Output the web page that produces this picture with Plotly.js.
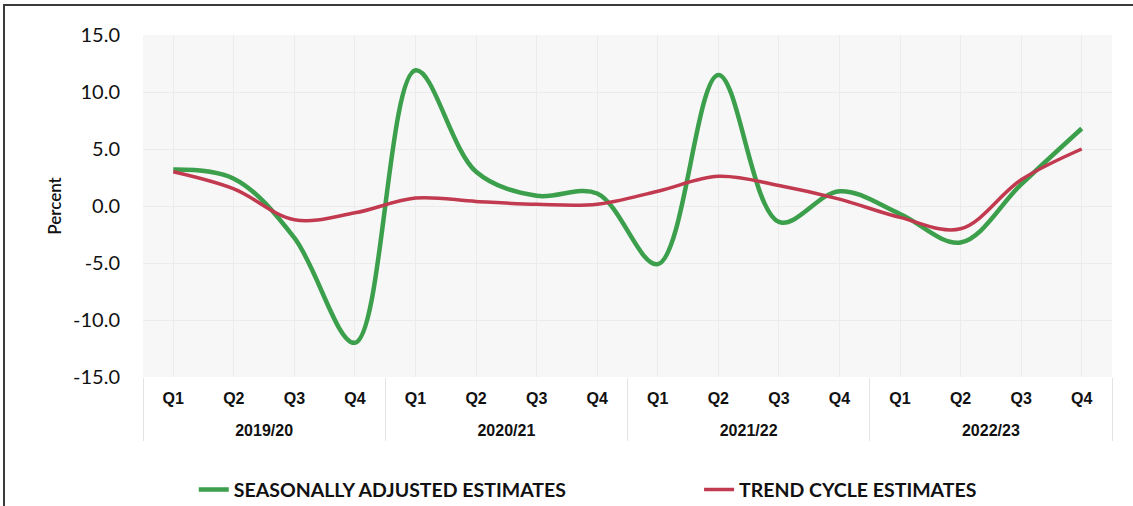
<!DOCTYPE html>
<html>
<head>
<meta charset="utf-8">
<script src="https://cdn.plot.ly/plotly-3.0.1.min.js"></script>
<style>
  html, body { margin: 0; padding: 0; background: #ffffff; }
  #wrap { position: relative; width: 1133px; height: 506px; overflow: hidden; }
  #chart { position: absolute; left: 0; top: 0; width: 1133px; height: 506px; }
  #frame { position: absolute; left: 3px; top: 4px; width: 1140px; height: 510px;
           border-left: 2px solid #3a3a3a; border-top: 2px solid #3a3a3a; pointer-events: none; }
</style>
</head>
<body>
<div id="wrap">
  <div id="chart"></div>
  <div id="frame"></div>
</div>
<script>
// ---- data ----
const fiscalYears = ['2019/20', '2020/21', '2021/22', '2022/23'];
const quarters = ['Q1', 'Q2', 'Q3', 'Q4'];
const seasonallyAdjusted = [3.2, 2.4, -2.8, -12.0, 11.9, 3.0, 0.9, 1.1, -5.1, 11.5, -1.4, 1.3, -0.7, -3.2, 1.9, 6.8];
const trendCycle = [3.0, 1.5, -1.2, -0.6, 0.7, 0.4, 0.15, 0.15, 1.3, 2.6, 1.8, 0.6, -1.0, -2.0, 2.3, 5.0];
const yTickValues = [15, 10, 5, 0, -5, -10, -15];
const yTickLabels = ['15.0', '10.0', '5.0', '0.0', '-5.0', '-10.0', '-15.0'];
const seriesNames = ['SEASONALLY ADJUSTED ESTIMATES', 'TREND CYCLE ESTIMATES'];
const yAxisTitle = 'Percent';

// unique category keys (year + quarter); quarter shown as tick text, year on a second axis
const xKeys = fiscalYears.flatMap(fy => quarters.map(q => fy + ' ' + q));
const xQuarterText = fiscalYears.flatMap(() => quarters);
const yearCenters = fiscalYears.map((_, i) => i * quarters.length + (quarters.length - 1) / 2);

const legendFont = { family: 'Lato, "Open Sans", sans-serif', size: 19.5, color: '#111111', weight: 'bold' };
const tickFontX = { family: 'Arial, "Liberation Sans", sans-serif', size: 16, color: '#111111', weight: 'bold' };

const traces = [
  {
    x: xKeys, y: seasonallyAdjusted, name: seriesNames[0],
    type: 'scatter', mode: 'lines', legend: 'legend',
    line: { color: '#3b9f4b', width: 4.5, shape: 'spline', smoothing: 1 }
  },
  {
    x: xKeys, y: trendCycle, name: seriesNames[1],
    type: 'scatter', mode: 'lines', legend: 'legend2',
    line: { color: '#c23a4f', width: 3.5, shape: 'spline', smoothing: 1 }
  },
  // empty helper trace so the fiscal-year axis (xaxis2) is drawn; it has no marks
  { x: [], y: [], xaxis: 'x2', yaxis: 'y', type: 'scatter', mode: 'lines', showlegend: false, hoverinfo: 'skip' }
];

const layout = {
  width: 1133, height: 506,
  margin: { l: 143, r: 21, t: 35, b: 129 },
  paper_bgcolor: '#ffffff',
  plot_bgcolor: '#f7f7f7',
  showlegend: true,
  legend: {
    orientation: 'h', xref: 'container', yref: 'container',
    x: 0.171, xanchor: 'left', y: 0.032, yanchor: 'middle',
    font: legendFont, bgcolor: 'rgba(0,0,0,0)', itemwidth: 30
  },
  legend2: {
    orientation: 'h', xref: 'container', yref: 'container',
    x: 0.617, xanchor: 'left', y: 0.032, yanchor: 'middle',
    font: legendFont, bgcolor: 'rgba(0,0,0,0)', itemwidth: 30
  },
  xaxis: {
    type: 'category',
    range: [-0.5, 15.5],
    tickvals: xKeys, ticktext: xQuarterText,
    showgrid: true, gridcolor: '#ececec', gridwidth: 1,
    showline: false, zeroline: false, ticks: '',
    ticklabelstandoff: 10, automargin: false,
    tickfont: tickFontX
  },
  xaxis2: {
    overlaying: 'x', anchor: 'y', side: 'bottom',
    type: 'linear', range: [-0.5, 15.5],
    tickvals: yearCenters, ticktext: fiscalYears,
    showgrid: false, zeroline: false, showline: false,
    ticks: '', ticklabelstandoff: 42, automargin: false,
    minor: { tick0: -0.5, dtick: 4, ticks: 'outside', ticklen: 63, tickwidth: 1, tickcolor: '#e4e4e4', showgrid: false },
    tickfont: Object.assign({}, tickFontX, { size: 16 })
  },
  yaxis: {
    range: [-15, 15],
    tickvals: yTickValues, ticktext: yTickLabels,
    showgrid: true, gridcolor: '#ebebeb', gridwidth: 1,
    zeroline: false, showline: false, ticks: '',
    ticklabelstandoff: 22, automargin: false,
    tickfont: { family: 'Lato, "Open Sans", sans-serif', size: 20, color: '#111111' },
    title: { text: yAxisTitle, standoff: 7,
             font: { family: 'Lato, "Open Sans", sans-serif', size: 17, color: '#111111', weight: 600 } }
  }
};

Plotly.newPlot('chart', traces, layout, { displayModeBar: false, staticPlot: true });
</script>
</body>
</html>
